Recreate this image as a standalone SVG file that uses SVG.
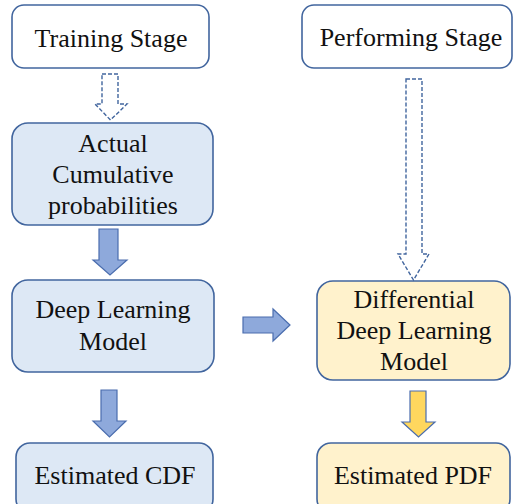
<svg xmlns="http://www.w3.org/2000/svg" width="513" height="504" viewBox="0 0 513 504">
<style>
.box{stroke:#41659E;stroke-width:1.6}
.white{fill:#ffffff}
.blue{fill:#DDE8F5}
.yellow{fill:#FFF2CC}
.t{font-family:'Liberation Serif','Times New Roman',serif;font-size:26px;fill:#111;text-anchor:middle}
.dash{fill:none;stroke:#41659E;stroke-width:1.4;stroke-dasharray:4 2}
.barr{fill:#8EA9DB;stroke:#4A6DAE;stroke-width:1.2}
.yarr{fill:#FFD75E;stroke:#4A6DAE;stroke-width:1.2}
</style>
<rect width="513" height="504" fill="#ffffff"/>
<g id="training">
<rect class="box white" x="12" y="5" width="197" height="63" rx="12"/>
<text class="t" x="111" y="47">Training Stage</text>
</g>
<g id="performing">
<rect class="box white" x="302" y="5" width="210" height="63" rx="12"/>
<text class="t" x="411" y="46">Performing Stage</text>
</g>
<g id="actual">
<rect class="box blue" x="12" y="123" width="201" height="102" rx="16"/>
<text class="t" x="113" y="152">Actual</text>
<text class="t" x="113" y="183">Cumulative</text>
<text class="t" x="113" y="214">probabilities</text>
</g>
<g id="dlm">
<rect class="box blue" x="12" y="280" width="202" height="92" rx="16"/>
<text class="t" x="113" y="318">Deep Learning</text>
<text class="t" x="113" y="350">Model</text>
</g>
<g id="ddlm">
<rect class="box yellow" x="317" y="281" width="193" height="99" rx="16"/>
<text class="t" x="414" y="308">Differential</text>
<text class="t" x="414" y="339">Deep Learning</text>
<text class="t" x="414" y="370">Model</text>
</g>
<g id="cdf">
<rect class="box blue" x="16" y="443" width="197" height="70" rx="14"/>
<text class="t" x="115" y="484">Estimated CDF</text>
</g>
<g id="pdf">
<rect class="box yellow" x="317" y="443" width="193" height="70" rx="14"/>
<text class="t" x="413" y="484">Estimated PDF</text>
</g>
<g id="connectors">
<path class="dash" d="M102 74 H118 V104 H127 L110.5 120 L95 104 H102 Z"/>
<path class="dash" d="M406 79 H422 V254 H429 L413.5 280 L398 254 H406 Z"/>
<path class="barr" d="M99 229 H118 V260 H127 L110 275 L93 260 H99 Z"/>
<path class="barr" d="M101 390 H117 V421 H126 L109.5 437 L93 421 H101 Z"/>
<path class="barr" d="M243 317 H273 V309 L290 325 L273 341 V333 H243 Z"/>
<path class="yarr" d="M410 391 H426 V422 H435 L418.5 437 L402 422 H410 Z"/>
</g>
</svg>
